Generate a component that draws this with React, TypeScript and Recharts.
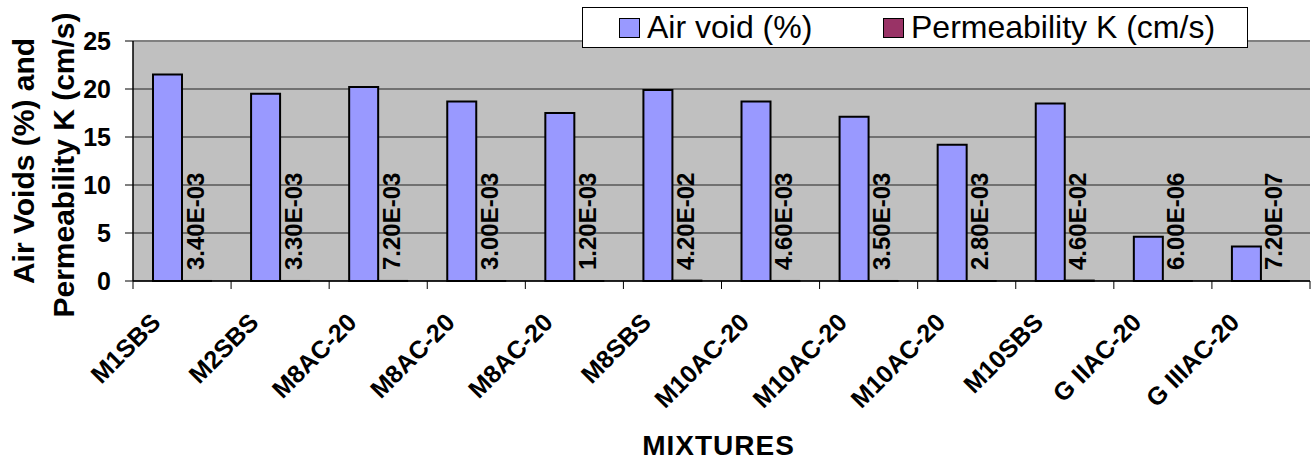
import React from 'react';
import {
  BarChart,
  Bar,
  XAxis,
  YAxis,
  CartesianGrid,
  Legend,
  LabelList,
  ReferenceLine,
} from 'recharts';

const mixtures = [
  'M1SBS',
  'M2SBS',
  'M8AC-20',
  'M8AC-20',
  'M8AC-20',
  'M8SBS',
  'M10AC-20',
  'M10AC-20',
  'M10AC-20',
  'M10SBS',
  'G IIAC-20',
  'G IIIAC-20',
];
const airVoid = [21.5, 19.5, 20.2, 18.7, 17.5, 19.9, 18.7, 17.1, 14.2, 18.5, 4.6, 3.6];
const permeability = [
  3.4e-3, 3.3e-3, 7.2e-3, 3.0e-3, 1.2e-3, 4.2e-2, 4.6e-3, 3.5e-3, 2.8e-3, 4.6e-2, 6.0e-6, 7.2e-7,
];
const yTicks = [0, 5, 10, 15, 20, 25];

const data = mixtures.map((name, i) => ({
  name,
  airVoid: airVoid[i],
  permeability: permeability[i],
}));

const FONT = 'Arial, "Liberation Sans", sans-serif';
const WIDTH = 1314;
const HEIGHT = 463;
const AXIS_W = 133;
const AXIS_H = 182;
const TOP = 41;
const BAND = (WIDTH - AXIS_W - 4) / mixtures.length;

// 3.4e-3 -> "3.40E-03"
const formatSci = (v: number) => {
  const [m, e] = v.toExponential(2).split('e');
  const exp = Number(e);
  const sign = exp < 0 ? '-' : '+';
  return `${m}E${sign}${String(Math.abs(exp)).padStart(2, '0')}`;
};

const MixtureTick = (props: any) => {
  const { x, y, payload, index } = props;
  const half = BAND / 2;
  const last = index === mixtures.length - 1;
  return (
    <g>
      <line x1={x - half} x2={x - half} y1={y} y2={y + 8} stroke="#000" />
      {last && <line x1={x + half} x2={x + half} y1={y} y2={y + 8} stroke="#000" />}
      <text
        transform={`translate(${x - 20},${y + 43}) rotate(-45)`}
        textAnchor="end"
        fontFamily={FONT}
        fontWeight="bold"
        fontSize={25}
        fill="#000"
      >
        {payload.value}
      </text>
    </g>
  );
};

const PermLabel = (props: any) => {
  const { x, y, width, height, value } = props;
  const cx = x + width / 2 + 7;
  const bottom = y + height - 11;
  return (
    <text
      transform={`translate(${cx},${bottom}) rotate(-90)`}
      textAnchor="start"
      fontFamily={FONT}
      fontWeight="bold"
      fontSize={24}
      fill="#000"
    >
      {formatSci(value)}
    </text>
  );
};

const YTitle = () => {
  const cy = TOP + 120;
  return (
    <g fontFamily={FONT} fontWeight="bold" fontSize={30} fill="#000">
      <text transform={`translate(34,${cy}) rotate(-90)`} textAnchor="middle">
        Air Voids (%) and
      </text>
      <text transform={`translate(74,${cy + 4}) rotate(-90)`} textAnchor="middle">
        Permeability K (cm/s)
      </text>
    </g>
  );
};

const XTitle = () => (
  <text
    x={AXIS_W + (WIDTH - AXIS_W - 4) / 2 - 3}
    y={455}
    textAnchor="middle"
    fontFamily={FONT}
    fontWeight="bold"
    fontSize={28}
    letterSpacing={1}
    fill="#000"
  >
    MIXTURES
  </text>
);

const LegendBox = ({ payload }: any) => {
  const offsets = [36, 300];
  return (
    <div
      style={{
        position: 'relative',
        width: 666,
        height: 41,
        background: '#fff',
        border: '1px solid #000',
        boxSizing: 'border-box',
        fontFamily: FONT,
        fontSize: 32,
        color: '#000',
      }}
    >
      {(payload || []).map((entry: any, i: number) => (
        <div
          key={entry.value}
          style={{
            position: 'absolute',
            left: offsets[i],
            top: 0,
            height: 39,
            display: 'flex',
            alignItems: 'center',
            whiteSpace: 'nowrap',
          }}
        >
          <span
            style={{
              display: 'inline-block',
              width: 21,
              height: 20,
              background: entry.color,
              border: '1.5px solid #000',
              boxSizing: 'border-box',
              marginRight: 7,
            }}
          />
          <span style={{ lineHeight: '39px' }}>{entry.value}</span>
        </div>
      ))}
    </div>
  );
};

export default function App() {
  return (
    <div style={{ position: 'absolute', left: 0, top: 0, width: WIDTH, height: HEIGHT, background: '#fff' }}>
      <BarChart
        width={WIDTH}
        height={HEIGHT}
        data={data}
        margin={{ top: TOP, right: 4, bottom: 0, left: 0 }}
        barSize={29}
        barGap={0}
      >
        <CartesianGrid vertical={false} stroke="#222" fill="#C0C0C0" />
        <ReferenceLine y={25} stroke="#808080" strokeWidth={2} />
        <XAxis
          dataKey="name"
          height={AXIS_H}
          interval={0}
          tickLine={false}
          tickSize={0}
          tickMargin={0}
          axisLine={{ stroke: '#000', strokeWidth: 1.5 }}
          tick={<MixtureTick />}
          label={<XTitle />}
        />
        <YAxis
          width={AXIS_W}
          domain={[0, 25]}
          ticks={yTicks}
          interval={0}
          tickSize={8}
          tickMargin={14}
          tickLine={{ stroke: '#000' }}
          axisLine={{ stroke: '#000', strokeWidth: 1.5 }}
          tick={{ fontFamily: FONT, fontWeight: 'bold', fontSize: 25, fill: '#000' }}
          label={<YTitle />}
        />
        <YAxis
          yAxisId="edge"
          orientation="right"
          width={0}
          tick={false}
          tickLine={false}
          axisLine={{ stroke: '#808080', strokeWidth: 2 }}
        />
        <Legend
          layout="horizontal"
          verticalAlign="middle"
          align="center"
          wrapperStyle={{ top: 7, left: 582, width: 666, height: 41 }}
          content={<LegendBox />}
        />
        <Bar
          dataKey="airVoid"
          name="Air void (%)"
          fill="#9999FF"
          stroke="#000"
          strokeWidth={2}
          isAnimationActive={false}
        />
        <Bar
          dataKey="permeability"
          name="Permeability K (cm/s)"
          fill="#993366"
          stroke="#000"
          strokeWidth={2}
          isAnimationActive={false}
        >
          <LabelList dataKey="permeability" content={<PermLabel />} />
        </Bar>
      </BarChart>
    </div>
  );
}
